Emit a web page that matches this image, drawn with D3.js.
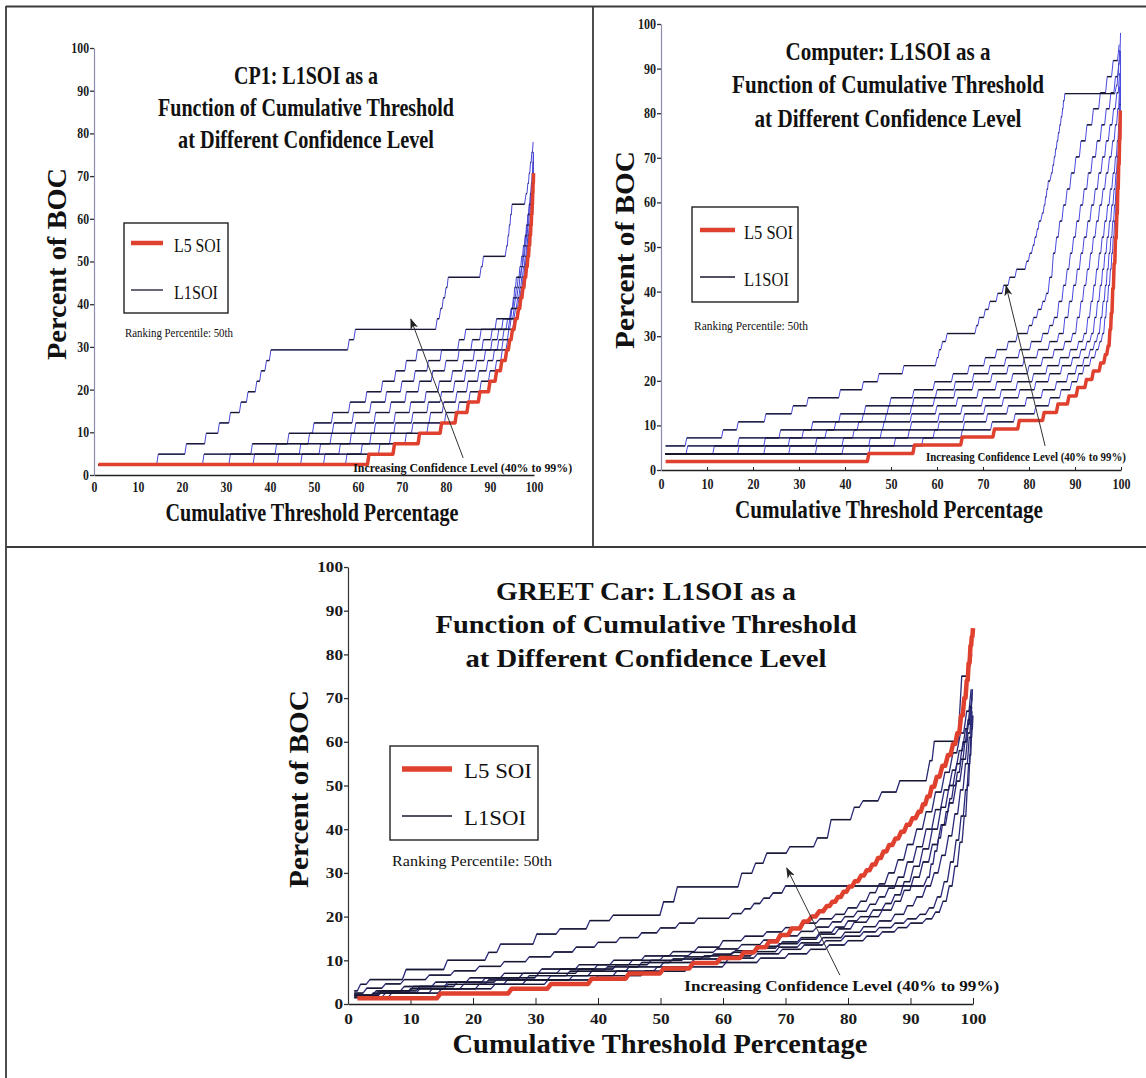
<!DOCTYPE html>
<html>
<head>
<meta charset="utf-8">
<script src="https://cdn.jsdelivr.net/npm/d3@7"></script>
<style>
  html, body { margin: 0; padding: 0; background: #fff; }
  svg { display: block; }
</style>
</head>
<body>
<svg id="chart" width="1146" height="1078"></svg>
<script>
// ---- shared axis ticks ----
const xTickValues = [0, 10, 20, 30, 40, 50, 60, 70, 80, 90, 100];
const yTickValues = [0, 10, 20, 30, 40, 50, 60, 70, 80, 90, 100];

const titleLines = ['L1SOI as a', 'Function of Cumulative Threshold', 'at Different Confidence Level'];
const xLabelText = 'Cumulative Threshold Percentage';
const yLabelText = 'Percent of BOC';
const legendLabels = ['L5 SOI', 'L1SOI'];
const rankingText = 'Ranking Percentile: 50th';
const annotText = 'Increasing Confidence Level (40% to 99%)';

// ---- CP1: step points [threshold %, percent of BOC] ----
const cp1Red = [[1,2.44],[62.5,4.88],[68.3,7.32],[74,9.76],[79,12.2],[82.4,14.63],[85.1,17.07],[87.7,19.5],[90,21.95],[91.5,24.4],[92.7,26.8],[93.8,29.3],[94.5,31.7],[95.1,34.1],[95.8,36.6],[96.5,39],[97,41.5],[97.5,43.9],[97.9,46.3],[98.3,48.8],[98.6,51.2],[98.9,53.7],[99.1,56.1],[99.3,58.5],[99.45,61],[99.6,63.4],[99.7,65.9],[99.8,68.3],[99.9,70.7]];

const cp1L1 = [
  [[1,2.44],[14.6,4.88],[21,7.32],[25.5,9.76],[28.5,12.2],[31,14.63],[33.4,17.07],[35,19.5],[37,21.95],[38,24.4],[39.2,26.8],[40.2,29.3],[58,31.7],[59.4,34.1],[78,36.6],[78.8,39],[79.4,41.5],[80,43.9],[80.5,46.3],[88,48.8],[88.5,51.2],[93.8,53.7],[94.1,56.1],[94.4,58.5],[94.7,61],[95,63.4],[98.2,65.9],[98.6,68.3],[98.9,70.7],[99.2,73.2],[99.5,75.6],[99.8,78]],
  [[1,2.44],[25,4.88],[36,7.32],[44.3,9.76],[50,12.2],[54.3,14.63],[58.2,17.07],[62,19.5],[65.6,21.95],[68.6,24.4],[71,26.8],[73.5,29.3],[83,31.7],[84.5,34.1],[94.5,36.6],[94.9,39],[95.3,41.5],[95.6,43.9],[96,46.3],[97.2,48.8],[97.5,51.2],[97.8,53.7],[98.1,56.1],[98.4,58.5],[98.7,61],[99,63.4],[99.2,65.9],[99.4,68.3],[99.6,70.7],[99.75,73.2],[99.85,75.6]],
  [[1,2.44],[31,4.88],[41.5,7.32],[49,9.76],[54.5,12.2],[59,14.63],[63,17.07],[66.5,19.5],[70,21.95],[73,24.4],[76,26.8],[79,29.3],[86,31.7],[88,34.1],[91.5,36.6],[94.8,39],[95.5,41.5],[96,43.9],[96.4,46.3],[96.8,48.8],[97.2,51.2],[97.6,53.7],[98,56.1],[98.3,58.5],[98.6,61],[98.9,63.4],[99.2,65.9],[99.45,68.3],[99.65,70.7],[99.8,73.2],[99.9,75.6]],
  [[1,2.44],[36.5,4.88],[47,7.32],[54,9.76],[59.5,12.2],[64,14.63],[67.5,17.07],[71,19.5],[74,21.95],[77,24.4],[80,26.8],[83,29.3],[88.5,31.7],[90.5,34.1],[93,36.6],[95,39],[95.8,41.5],[96.4,43.9],[96.8,46.3],[97.2,48.8],[97.6,51.2],[98,53.7],[98.3,56.1],[98.6,58.5],[98.9,61],[99.2,63.4],[99.45,65.9],[99.65,68.3],[99.8,70.7],[99.9,73.2]],
  [[1,2.44],[42,4.88],[51.5,7.32],[58.5,9.76],[64,12.2],[68.5,14.63],[72,17.07],[75.5,19.5],[78.5,21.95],[81.5,24.4],[84,26.8],[86.5,29.3],[90.5,31.7],[92,34.1],[94,36.6],[95.5,39],[96.3,41.5],[96.8,43.9],[97.2,46.3],[97.6,48.8],[98,51.2],[98.3,53.7],[98.6,56.1],[98.9,58.5],[99.2,61],[99.45,63.4],[99.65,65.9],[99.8,68.3],[99.9,70.7]],
  [[1,2.44],[47.3,4.88],[56,7.32],[63,9.76],[68.5,12.2],[72.5,14.63],[76,17.07],[79,19.5],[82,21.95],[84.5,24.4],[87,26.8],[89,29.3],[92,31.7],[93.2,34.1],[94.8,36.6],[95.8,39],[96.6,41.5],[97.1,43.9],[97.5,46.3],[97.9,48.8],[98.2,51.2],[98.5,53.7],[98.8,56.1],[99.1,58.5],[99.4,61],[99.6,63.4],[99.8,65.9],[99.9,68.3]],
  [[1,2.44],[52.5,4.88],[61,7.32],[67.5,9.76],[72.5,12.2],[76.5,14.63],[79.5,17.07],[82.5,19.5],[85,21.95],[87.5,24.4],[89.5,26.8],[91,29.3],[93,31.7],[94.3,34.1],[95.5,36.6],[96.3,39],[96.9,41.5],[97.4,43.9],[97.8,46.3],[98.1,48.8],[98.4,51.2],[98.7,53.7],[99,56.1],[99.3,58.5],[99.5,61],[99.7,63.4],[99.85,65.9]],
  [[1,2.44],[57.5,4.88],[65,7.32],[71,9.76],[76,12.2],[80,14.63],[83,17.07],[85.5,19.5],[88,21.95],[90,24.4],[91.5,26.8],[92.8,29.3],[94,31.7],[95,34.1],[95.9,36.6],[96.6,39],[97.2,41.5],[97.6,43.9],[98,46.3],[98.3,48.8],[98.6,51.2],[98.9,53.7],[99.2,56.1],[99.4,58.5],[99.6,61],[99.8,63.4],[99.9,65.9]]
];

// ---- Computer ----
const compRed = [[1,1.9],[45.2,3.7],[55.1,5.6],[65.5,7.4],[72.5,9.2],[77.9,11.1],[83.3,12.9],[86.3,14.8],[88.7,16.6],[90.6,18.5],[92.5,20.3],[94,22.2],[95.6,24],[96.6,25.9],[97.2,27.8],[97.6,31.5],[97.9,35.2],[98.2,40.7],[98.5,46.3],[98.8,51.9],[99.1,57.4],[99.3,63],[99.5,68.5],[99.7,74.1],[99.85,80.6]];

const compL1 = [
  [[1,5.4],[5.6,7.2],[13.5,9],[16.8,10.8],[22.8,12.6],[28.7,14.4],[32,16.2],[39,18],[44,19.8],[47.4,21.6],[52.8,23.4],[60,25.2],[60.5,27],[61.2,28.8],[62.2,30.6],[68.6,32.4],[69.2,34.2],[70.5,36],[71.5,37.8],[73.2,39.6],[74.5,41.4],[75.8,43.2],[77.3,45],[79.5,46.8],[80.2,48.6],[80.9,50.4],[81.3,52.2],[81.8,54],[82.2,55.8],[82.9,57.6],[83.3,59.4],[83.6,61.2],[83.9,63],[84.2,64.8],[84.9,66.6],[85.2,68.4],[85.5,70.2],[85.8,72],[86.1,73.8],[86.4,75.6],[86.7,77.4],[87,79.2],[87.3,81],[87.5,82.8],[87.8,84.4],[99,86.2],[99.3,88.6],[99.5,91],[99.7,94],[99.9,98]],
  [[1,3.6],[5.8,5.4],[17,7.2],[26,9],[33,10.8],[39,12.6],[44.5,14.4],[50,16.2],[55,18],[59.5,19.8],[63.5,21.6],[67,23.4],[70.5,25.2],[73,27],[75.5,28.8],[77.5,30.6],[80,32.4],[81,34.2],[82,36],[83,37.8],[83.8,39.6],[84.5,43.2],[85.3,48.6],[86,52.2],[86.7,55.8],[87.5,59.4],[88.3,63],[89.2,66.6],[90.2,70.2],[91.3,73.8],[92.6,77.4],[94,81],[95.5,84.6],[97,88.2],[98.3,91.8],[99.6,95.4]],
  [[1,3.6],[11.6,5.4],[22.7,7.2],[31,9],[38,10.8],[44,12.6],[49.5,14.4],[55,16.2],[60,18],[64,19.8],[68,21.6],[71.5,23.4],[75,25.2],[78,27],[80.5,28.8],[83,30.6],[84.5,32.4],[85.5,34.2],[86.5,37.8],[87.5,41.4],[88.3,45],[89,48.6],[89.7,52.2],[90.4,55.8],[91.2,59.4],[92,63],[92.9,66.6],[93.8,70.2],[94.8,73.8],[95.8,77.4],[96.8,81],[97.8,84.6],[98.8,88.2],[99.6,92]],
  [[1,3.6],[17,5.4],[28,7.2],[36,9],[43,10.8],[49,12.6],[54.5,14.4],[59.5,16.2],[64,18],[68,19.8],[72,21.6],[75.5,23.4],[79,25.2],[82,27],[84.5,28.8],[86.5,30.6],[87.8,34.2],[88.8,37.8],[89.7,41.4],[90.5,45],[91.3,48.6],[92,52.2],[92.8,55.8],[93.6,59.4],[94.4,63],[95.2,66.6],[96,70.2],[96.8,73.8],[97.6,77.4],[98.4,81],[99.1,84.6],[99.7,89]],
  [[1,3.6],[22.7,5.4],[33.9,7.2],[42,9],[48.5,10.8],[54.5,12.6],[60,14.4],[64.5,16.2],[69,18],[73,19.8],[76.5,21.6],[80,23.4],[83,25.2],[85.5,27],[87.8,28.8],[89.5,30.6],[90.5,34.2],[91.3,37.8],[92,41.4],[92.7,45],[93.4,48.6],[94,52.2],[94.7,55.8],[95.4,59.4],[96.1,63],[96.8,66.6],[97.5,70.2],[98.2,73.8],[98.8,77.4],[99.3,81],[99.7,86]],
  [[1,3.6],[28.1,5.4],[39.7,7.2],[48,9],[54.5,10.8],[60.5,12.6],[65.5,14.4],[70,16.2],[74,18],[77.5,19.8],[81,21.6],[84,23.4],[86.8,25.2],[89,27],[90.8,28.8],[92,30.6],[92.8,34.2],[93.5,37.8],[94.1,41.4],[94.7,45],[95.3,48.6],[95.9,52.2],[96.5,55.8],[97.1,59.4],[97.7,63],[98.3,66.6],[98.8,70.2],[99.2,73.8],[99.5,77.4],[99.75,82],[99.9,88]],
  [[1,3.6],[33.9,5.4],[45.5,7.2],[54,9],[60.5,10.8],[66,12.6],[70.5,14.4],[74.5,16.2],[78,18],[81.5,19.8],[84.5,21.6],[87.2,23.4],[89.5,25.2],[91.3,27],[92.6,28.8],[93.6,30.6],[94.3,34.2],[94.9,37.8],[95.5,41.4],[96,45],[96.5,48.6],[97,52.2],[97.5,55.8],[98,59.4],[98.5,63],[98.9,66.6],[99.2,70.2],[99.5,75],[99.75,82],[99.9,90]],
  [[1,3.6],[39.7,5.4],[51,7.2],[59.5,9],[66,10.8],[71,12.6],[75.5,14.4],[79.5,16.2],[83,18],[86,19.8],[88.5,21.6],[90.4,23.4],[92,25.2],[93.3,27],[94.3,28.8],[95,30.6],[95.6,34.2],[96.1,37.8],[96.6,41.4],[97,45],[97.4,48.6],[97.8,52.2],[98.2,55.8],[98.6,59.4],[98.9,63],[99.2,68],[99.5,74],[99.7,80],[99.9,92]],
  [[1,3.6],[45.5,5.4],[57,7.2],[65.5,9],[72,10.8],[77,12.6],[81.5,14.4],[84.6,16.2],[87,18],[89.3,19.8],[90.8,21.6],[92,23.4],[93.5,25.2],[94.6,27],[95.4,28.8],[96,30.6],[96.5,34.2],[96.9,37.8],[97.3,41.4],[97.7,45],[98,48.6],[98.3,52.2],[98.6,55.8],[98.9,59.4],[99.1,63],[99.3,68],[99.5,74],[99.7,80],[99.9,94]]
];

// ---- GREET Car ----
const greetRed = [[1.5,1.3],[14.8,2.4],[26.2,3.5],[32.5,4.6],[39,5.8],[45,7],[50.5,8.1],[55.2,9.4],[59.6,10.5],[63.3,11.8],[65.5,13],[67.4,14.3],[69.2,15.8],[71,17.3],[72.9,18.9],[74.2,20],[75.4,21.2],[76.6,22.4],[77.5,23.4],[78.4,24.5],[79.3,25.7],[80.2,26.9],[81.1,28.1],[82.1,29.4],[83,30.6],[83.9,31.9],[84.8,33.4],[85.7,34.9],[86.6,36.4],[87.6,37.9],[88.5,39.4],[89.4,41],[90.3,42.5],[91.3,44],[92,45.7],[92.7,47.5],[93.4,49.7],[94.2,52],[95.1,54.5],[96,57],[96.8,59.5],[97.5,62],[98.1,66],[98.6,70],[99,74],[99.3,78],[99.6,82],[99.8,84],[100,86]];

const greetL1 = [
  [[1,3],[2,4.5],[3.5,5.6],[9.3,7.9],[15.9,10],[22.5,11.8],[24.4,13.7],[30.2,16],[33.9,17.2],[38.7,19.1],[42.4,20.3],[50.5,23.4],[52.7,26.8],[63,29.9],[65.2,32.2],[67,34.5],[70.7,36],[75.1,38],[77.3,42.2],[81,45],[82.4,46.5],[85.4,48.5],[88.3,51.1],[93.1,55.7],[93.8,60.1],[98.2,75],[99.8,80]],
  [[1,2.5],[3,3.6],[6,4.6],[9,5.6],[13,6.6],[17,7.6],[21,8.6],[25,9.7],[29,10.8],[33,11.9],[36.5,13],[40,14.1],[43.5,15.2],[47,16.3],[50,17.4],[53,18.5],[56,19.6],[61.5,20.7],[63.5,21.8],[65,23],[66.5,24.2],[68,25.4],[70,27],[92.7,29],[93.3,32],[93.9,35],[94.5,38],[95.1,41],[95.7,44],[96.3,47],[96.9,50],[97.5,53],[98.1,56],[98.7,60],[99.2,64],[99.6,68],[99.9,72]],
  [[1,2],[4.5,3],[9,4],[14,5],[19.5,6],[25,7],[31,8],[37,9],[42.5,10],[47.5,11],[52,12],[56,13],[60,14.5],[63.5,15.5],[67,16.5],[70,17.5],[73,18.5],[75.5,19.5],[78,20.5],[80,22],[82,23.5],[83.5,25.5],[85,27.5],[86.5,30],[88,33],[89.5,36.5],[91,40],[92.5,44],[94,48.5],[95.5,53],[96.8,57.5],[98,62],[99,67],[99.7,72]],
  [[1,2],[5,3],[10.5,4],[16,5],[22,6],[28,7],[34,8],[40,9],[45.5,10],[50.5,11],[55,11.8],[59,12.6],[63,13.6],[66.5,14.6],[69.5,15.6],[72.5,16.6],[75,17.6],[77.5,18.8],[79.5,20],[81.5,21.2],[83.5,22.8],[85,24.5],[86.5,26.5],[88,29],[89.5,32.5],[91,36],[92.5,40],[94,44.5],[95.4,49],[96.7,53.5],[97.8,58],[98.8,63],[99.5,68],[99.9,72]],
  [[1,2],[5.5,3],[11.5,4],[17.5,5],[24,6],[30.5,7],[37,8],[43,9],[48.5,10],[54,10.8],[58.5,11.4],[62,12.2],[66,13.2],[69.5,14.2],[72.5,15.2],[75.5,16.4],[78,17.6],[80,19],[82,20],[84,21.5],[86,23],[87.5,25],[89,28],[90.5,31.5],[92,35.5],[93.5,40],[94.9,45],[96.2,50],[97.4,55],[98.4,60],[99.2,65],[99.8,70]],
  [[1,1.5],[4,2.5],[10,3.5],[16,4.5],[22.5,5.5],[29,6.5],[35.5,7.5],[41.5,8.5],[47,9.5],[52,10.3],[57,11],[61.5,11.8],[65.5,12.8],[69,13.8],[72.5,14.8],[75.5,16],[78.5,17.2],[81,18.7],[83.5,20],[85.5,21.5],[87.5,23.5],[89,26],[90.5,29],[92,32.5],[93.5,36.5],[94.9,41],[96.2,46],[97.4,51],[98.4,56],[99.2,62],[99.8,68]],
  [[1,1.5],[5,2.5],[11.5,3.5],[18.5,4.5],[25.5,5.5],[32.5,6.5],[39,7.5],[45,8.5],[50.5,9.5],[55.5,10.3],[60.5,11],[65,12],[69,13],[72.5,14],[76,15.2],[79.5,16.4],[82.5,17.7],[85,19],[87.5,20.5],[89.5,22.5],[91,24.5],[92.5,27],[93.8,30],[95,34],[96.1,38.5],[97.1,43.5],[98,49],[98.8,55],[99.4,61],[99.85,67]],
  [[1,1.5],[6,2.5],[13.5,3.5],[21,4.5],[28.5,5.5],[36,6.5],[43,7.5],[49.5,8.5],[55.5,9.5],[61,10.5],[65.5,11.5],[69.5,12.5],[73,13.5],[76.5,14.5],[79.5,15.5],[82.5,16.5],[85,17.5],[87.5,18.5],[89.5,19.5],[91.5,20.5],[93,22],[94.3,24.5],[95.4,28],[96.4,32.5],[97.3,37.5],[98.1,43],[98.8,49],[99.3,55],[99.65,61],[99.9,66]],
  [[1,1.5],[7,2.5],[15,3.5],[23.5,4.5],[32,5.5],[40,6.5],[47.5,7.5],[54.5,8.5],[60.5,9.5],[66,10.5],[70.5,11.5],[74,12.5],[77,13.5],[80,14.5],[83,15.5],[85.5,16.5],[88,17.5],[90,18.5],[92.5,19.5],[94,21],[95.2,23.5],[96.2,27],[97.1,31.5],[97.9,37],[98.6,43],[99.1,50],[99.5,57],[99.8,63],[100,66]]
];

// ---- annotation arrows: [tailX, tailY, headX, headY] in data units ----
const cp1Arrow = [83.9, 4.0, 72.0, 36.5];
const compArrow = [83.5, 5.4, 75.0, 41.3];
const greetArrow = [78.7, 6.6, 70.2, 31.1];

const FONT = '"Liberation Serif", "Times New Roman", Times, serif';
const RED = '#e0402e';

const svg = d3.select('#chart');

svg.append('defs').append('marker')
  .attr('id', 'arrowhead')
  .attr('markerUnits', 'userSpaceOnUse')
  .attr('markerWidth', 11)
  .attr('markerHeight', 8)
  .attr('refX', 10)
  .attr('refY', 4)
  .attr('orient', 'auto')
  .append('path')
  .attr('d', 'M0,0 L11,4 L0,8 L3,4 Z')
  .attr('fill', '#222');

// panel frame lines
const frame = svg.append('g').attr('stroke', '#3a3a3a').attr('stroke-width', 1.8);
frame.append('line').attr('x1', 6).attr('y1', 6.5).attr('x2', 1146).attr('y2', 6.5);
frame.append('line').attr('x1', 6).attr('y1', 6).attr('x2', 6).attr('y2', 1078);
frame.append('line').attr('x1', 593).attr('y1', 6).attr('x2', 593).attr('y2', 547);
frame.append('line').attr('x1', 6).attr('y1', 547).attr('x2', 1146).attr('y2', 547);

// turn step points into a polyline with a short slanted riser before each new level
function expand(pts, slant) {
  const out = [pts[0]];
  for (let i = 1; i < pts.length; i++) {
    const s = Math.min(slant, (pts[i][0] - pts[i - 1][0]) * 0.5);
    out.push([pts[i][0] - s, pts[i - 1][1]], pts[i]);
  }
  return out;
}

function plateaus(pts, slant) {
  const segs = [];
  for (let i = 1; i < pts.length; i++) {
    const s = Math.min(slant, (pts[i][0] - pts[i - 1][0]) * 0.5);
    segs.push([pts[i - 1][0], pts[i][0] - s, pts[i - 1][1]]);
  }
  return segs;
}

function addText(g, str, opts) {
  const t = g.append('text')
    .attr('x', opts.x)
    .attr('y', opts.y)
    .attr('font-family', FONT)
    .attr('font-size', opts.size)
    .attr('font-weight', opts.weight || 'normal')
    .attr('text-anchor', opts.anchor || 'start')
    .attr('fill', opts.fill || '#111')
    .text(str);
  if (opts.width) t.attr('textLength', opts.width).attr('lengthAdjust', opts.adjust || 'spacingAndGlyphs');
  if (opts.transform) t.attr('transform', opts.transform);
  return t;
}

function drawPanel(p) {
  const g = svg.append('g');
  const x = d3.scaleLinear().domain([0, 100]).range(p.xRange);
  const y = d3.scaleLinear().domain([0, 100]).range(p.yRange);

  // axes
  const gx = g.append('g')
    .attr('transform', `translate(0,${y(0)})`)
    .call(d3.axisBottom(x).tickValues(xTickValues).tickSize(-p.xTickLen).tickSizeOuter(0).tickPadding(p.xPad));
  const gy = g.append('g')
    .attr('transform', `translate(${x(0)},0)`)
    .call(d3.axisLeft(y).tickValues(yTickValues).tickSize(4).tickSizeOuter(0).tickPadding(1));

  gx.select('.domain').attr('stroke', '#222').attr('stroke-width', 1.3);
  gx.selectAll('.tick line').attr('stroke', '#222');
  gy.select('.domain').attr('stroke', p.yAxisColor).attr('stroke-width', 1.2);
  gy.selectAll('.tick line').attr('stroke', '#333').attr('stroke-width', 1.3);
  g.selectAll('.tick text')
    .attr('font-family', FONT)
    .attr('font-weight', 'bold')
    .attr('font-size', p.tickFont)
    .attr('fill', '#1a1a1a')
    .each(function () {
      const w = this.getComputedTextLength();
      d3.select(this).attr('textLength', w * p.tickScale).attr('lengthAdjust', 'spacingAndGlyphs');
    });

  // L1SOI curves: risers first, then the darker plateaus
  const line = d3.line().x(d => x(d[0])).y(d => y(d[1]));
  g.append('g').selectAll('path')
    .data(p.l1)
    .join('path')
    .attr('d', d => line(expand(d, p.slant)))
    .attr('fill', 'none')
    .attr('stroke', p.riseColor)
    .attr('stroke-width', p.riseWidth);

  const segs = p.l1.flatMap(c => plateaus(c, p.slant));
  g.append('g').selectAll('line')
    .data(segs)
    .join('line')
    .attr('x1', d => x(d[0]))
    .attr('x2', d => x(d[1]))
    .attr('y1', d => y(d[2]))
    .attr('y2', d => y(d[2]))
    .attr('stroke', '#17172e')
    .attr('stroke-width', p.flatWidth);

  // L5 SOI
  g.append('path')
    .attr('d', line(expand(p.red, p.slant)))
    .attr('fill', 'none')
    .attr('stroke', RED)
    .attr('stroke-width', p.redWidth)
    .attr('stroke-linejoin', 'round');

  // title
  p.title.forEach((s, i) => {
    addText(g, s, { x: p.titleX, y: p.titleY[i], size: p.titleSize, weight: 'bold', anchor: 'middle', width: p.titleW[i] });
  });

  // axis labels
  addText(g, xLabelText, { x: p.xLab[0], y: p.xLab[1], size: p.labSize, weight: 'bold', anchor: 'middle', width: p.xLab[2] });
  addText(g, yLabelText, {
    x: 0, y: 0, size: p.yLabSize, weight: 'bold', anchor: 'middle', width: p.yLab[2],
    transform: `translate(${p.yLab[0]},${p.yLab[1]}) rotate(-90)`
  });

  // legend
  const L = p.legend;
  g.append('rect')
    .attr('x', L.x).attr('y', L.y).attr('width', L.w).attr('height', L.h)
    .attr('fill', '#fff').attr('stroke', '#222').attr('stroke-width', 1.4);
  g.append('line')
    .attr('x1', L.lx1).attr('x2', L.lx2).attr('y1', L.r1).attr('y2', L.r1)
    .attr('stroke', RED).attr('stroke-width', p.redWidth + 1);
  g.append('line')
    .attr('x1', L.lx1).attr('x2', L.lx2).attr('y1', L.r2).attr('y2', L.r2)
    .attr('stroke', '#17172e').attr('stroke-width', 1.3);
  addText(g, legendLabels[0], { x: L.tx, y: L.r1 + L.dy, size: L.size, width: L.w1 });
  addText(g, legendLabels[1], { x: L.tx, y: L.r2 + L.dy, size: L.size, width: L.w2 });
  addText(g, rankingText, { x: p.rank[0], y: p.rank[1], size: p.rank[3], width: p.rank[2] });

  // annotation arrow + text
  const a = p.arrow;
  g.append('line')
    .attr('x1', x(a[0])).attr('y1', y(a[1]))
    .attr('x2', x(a[2])).attr('y2', y(a[3]))
    .attr('stroke', '#333').attr('stroke-width', 1)
    .attr('marker-end', 'url(#arrowhead)');
  addText(g, annotText, { x: x(p.annot[0]), y: y(p.annot[1]), size: p.annot[3], weight: 'bold', width: p.annot[2] });
}

drawPanel({
  xRange: [94, 534], yRange: [475, 48],
  l1: cp1L1, red: cp1Red, slant: 0.35,
  riseColor: '#4747d6', riseWidth: 1, flatWidth: 1.4, redWidth: 3.5,
  yAxisColor: '#8c8cae', xTickLen: 0, xPad: 7, tickFont: 14, tickScale: 0.84,
  title: ['CP1: ' + titleLines[0], titleLines[1], titleLines[2]],
  titleX: 306, titleY: [84, 116, 148], titleSize: 25, titleW: [144, 296, 256],
  labSize: 26, yLabSize: 27, xLab: [312, 521, 293], yLab: [66, 264, 192],
  legend: { x: 124, y: 223, w: 104, h: 90, lx1: 131, lx2: 163, r1: 243, r2: 290, tx: 174, dy: 9, size: 18, w1: 47, w2: 44 },
  rank: [125, 337, 108, 12],
  arrow: cp1Arrow, annot: [58.9, 0.7, 219, 12]
});

drawPanel({
  xRange: [661, 1121], yRange: [470, 24],
  l1: compL1, red: compRed, slant: 0.35,
  riseColor: '#4a4ae0', riseWidth: 1, flatWidth: 1.4, redWidth: 3.5,
  yAxisColor: '#8c8cae', xTickLen: 3, xPad: 9, tickFont: 14, tickScale: 0.86,
  title: ['Computer: ' + titleLines[0], titleLines[1], titleLines[2]],
  titleX: 888, titleY: [60, 93, 127], titleSize: 26, titleW: [205, 312, 267],
  labSize: 26, yLabSize: 27, xLab: [889, 518, 308], yLab: [634, 250, 198],
  legend: { x: 692, y: 207, w: 106, h: 95, lx1: 700, lx2: 735, r1: 230, r2: 277, tx: 744, dy: 9, size: 18, w1: 49, w2: 45 },
  rank: [694, 330, 114, 12],
  arrow: compArrow, annot: [57.6, 2.0, 200, 12]
});

drawPanel({
  xRange: [348, 973], yRange: [1004, 567],
  l1: greetL1, red: greetRed, slant: 0.6,
  riseColor: '#2a2a78', riseWidth: 1.3, flatWidth: 1.4, redWidth: 4.5,
  yAxisColor: '#333', xTickLen: 6, xPad: 9, tickFont: 15, tickScale: 1.15,
  title: ['GREET Car: ' + titleLines[0], titleLines[1], titleLines[2]],
  titleX: 646, titleY: [600, 633, 667], titleSize: 26, titleW: [300, 421, 361],
  labSize: 27, yLabSize: 28, xLab: [660, 1053, 415], yLab: [308, 789, 198],
  legend: { x: 390, y: 746, w: 148, h: 94, lx1: 402, lx2: 452, r1: 769, r2: 816, tx: 464, dy: 9, size: 20, w1: 68, w2: 62 },
  rank: [392, 866, 160, 14],
  arrow: greetArrow, annot: [53.8, 3.0, 315, 14]
});
</script>
</body>
</html>
